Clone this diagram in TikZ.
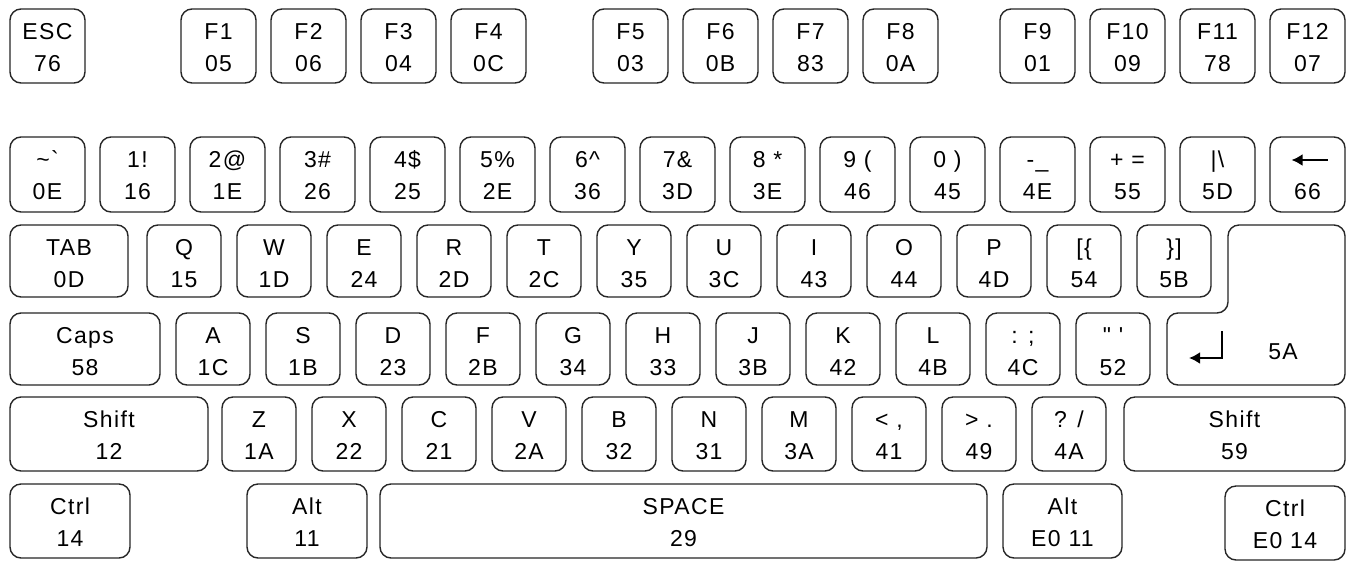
\documentclass[tikz,border=0pt]{standalone}
\usepackage{fontspec}
\setmainfont{Liberation Sans}
\newfontfamily\keyfont{Liberation Sans}[LetterSpace=6]
\usetikzlibrary{arrows.meta}
\tikzset{
  keybox/.style={draw=black!85, line width=1.4pt, rounded corners=11pt, inner sep=0pt, outer sep=0pt, rectangle},
  keytxt/.style={anchor=base, inner sep=0pt, outer sep=0pt, font=\keyfont\fontsize{23}{27}\selectfont},
  keyarrow/.style={line width=2.2pt, -{Latex[length=11pt,width=12pt]}},
}
% name, left, top, width, height, line1, line2
\newcommand\mykey[7]{%
  \node[keybox, minimum width=#4pt, minimum height=#5pt] (#1) at (#2+#4/2,#3+#5/2) {};
  \node[keytxt] (#1-a) at ([yshift=-30pt]#1.north) {#6};
  \node[keytxt] (#1-b) at ([yshift=-62pt]#1.north) {#7};
}
\begin{document}
\begin{tikzpicture}[x=1pt,y=-1pt]
\useasboundingbox[fill=white] (0,0) rectangle (1362,574);
% function row
\mykey{esc}{10}{9}{75}{74}{ESC}{76}
\mykey{f1}{181}{9}{75}{74}{F1}{05}
\mykey{f2}{271}{9}{75}{74}{F2}{06}
\mykey{f3}{361}{9}{75}{74}{F3}{04}
\mykey{f4}{451}{9}{75}{74}{F4}{0C}
\mykey{f5}{593}{9}{75}{74}{F5}{03}
\mykey{f6}{683}{9}{75}{74}{F6}{0B}
\mykey{f7}{773}{9}{75}{74}{F7}{83}
\mykey{f8}{863}{9}{75}{74}{F8}{0A}
\mykey{f9}{1000}{9}{75}{74}{F9}{01}
\mykey{f10}{1090}{9}{75}{74}{F10}{09}
\mykey{f11}{1180}{9}{75}{74}{F11}{78}
\mykey{f12}{1270}{9}{75}{74}{F12}{07}
% number row
\mykey{tilde}{10}{137}{75}{75}{\textasciitilde\symbol{"60}}{0E}
\mykey{n1}{100}{137}{75}{75}{1!}{16}
\mykey{n2}{190}{137}{75}{75}{2@}{1E}
\mykey{n3}{280}{137}{75}{75}{3\#}{26}
\mykey{n4}{370}{137}{75}{75}{4\$}{25}
\mykey{n5}{460}{137}{75}{75}{5\%}{2E}
\mykey{n6}{550}{137}{75}{75}{6\textasciicircum}{36}
\mykey{n7}{640}{137}{75}{75}{7\&}{3D}
\mykey{n8}{730}{137}{75}{75}{8 *}{3E}
\mykey{n9}{820}{137}{75}{75}{9 (}{46}
\mykey{n0}{910}{137}{75}{75}{0 )}{45}
\mykey{minus}{1000}{137}{75}{75}{-\_}{4E}
\mykey{plus}{1090}{137}{75}{75}{+ =}{55}
\mykey{bslash}{1180}{137}{75}{75}{|\textbackslash}{5D}
\mykey{bs}{1270}{137}{75}{75}{}{66}
\coordinate (bs-r) at ([xshift=20pt,yshift=-23pt]bs.north);
\coordinate (bs-l) at ([xshift=-16pt,yshift=-23pt]bs.north);
\draw[keyarrow] (bs-r) -- (bs-l);
% QWERTY row
\mykey{tab}{10}{225}{118}{72}{TAB}{0D}
\mykey{q}{147}{225}{74}{72}{Q}{15}
\mykey{w}{237}{225}{74}{72}{W}{1D}
\mykey{e}{327}{225}{74}{72}{E}{24}
\mykey{r}{417}{225}{74}{72}{R}{2D}
\mykey{t}{507}{225}{74}{72}{T}{2C}
\mykey{y}{597}{225}{74}{72}{Y}{35}
\mykey{u}{687}{225}{74}{72}{U}{3C}
\mykey{i}{777}{225}{74}{72}{I}{43}
\mykey{o}{867}{225}{74}{72}{O}{44}
\mykey{p}{957}{225}{74}{72}{P}{4D}
\mykey{lbr}{1047}{225}{74}{72}{[\{}{54}
\mykey{rbr}{1137}{225}{74}{72}{\}]}{5B}
% enter key
\draw[draw=black!85, line width=1.4pt, rounded corners=11pt] (1228,225) -- (1345,225) -- (1345,385) -- (1167,385) -- (1167,313) -- (1228,313) -- cycle;
\node[keytxt] (ret-t) at (1283,359) {5A};
\coordinate (ret-a) at (1222,331);
\coordinate (ret-c) at (1189,358);
\draw[keyarrow] (ret-a) |- (ret-c);
% home row
\mykey{caps}{10}{313}{150}{72}{Caps}{58}
\mykey{a}{176}{313}{74}{72}{A}{1C}
\mykey{s}{266}{313}{74}{72}{S}{1B}
\mykey{d}{356}{313}{74}{72}{D}{23}
\mykey{f}{446}{313}{74}{72}{F}{2B}
\mykey{g}{536}{313}{74}{72}{G}{34}
\mykey{h}{626}{313}{74}{72}{H}{33}
\mykey{j}{716}{313}{74}{72}{J}{3B}
\mykey{k}{806}{313}{74}{72}{K}{42}
\mykey{l}{896}{313}{74}{72}{L}{4B}
\mykey{semi}{986}{313}{74}{72}{: ;}{4C}
\mykey{quote}{1076}{313}{74}{72}{\symbol{"22} \symbol{"27}}{52}
% shift row
\mykey{lshift}{10}{397}{198}{74}{Shift}{12}
\mykey{z}{222}{397}{74}{74}{Z}{1A}
\mykey{x}{312}{397}{74}{74}{X}{22}
\mykey{c}{402}{397}{74}{74}{C}{21}
\mykey{v}{492}{397}{74}{74}{V}{2A}
\mykey{b}{582}{397}{74}{74}{B}{32}
\mykey{n}{672}{397}{74}{74}{N}{31}
\mykey{m}{762}{397}{74}{74}{M}{3A}
\mykey{comma}{852}{397}{74}{74}{< ,}{41}
\mykey{period}{942}{397}{74}{74}{> .}{49}
\mykey{slash}{1032}{397}{74}{74}{? /}{4A}
\mykey{rshift}{1124}{397}{221}{74}{Shift}{59}
% bottom row
\mykey{lctrl}{10}{484}{120}{74}{Ctrl}{14}
\mykey{lalt}{247}{484}{120}{74}{Alt}{11}
\mykey{space}{380}{484}{607}{74}{SPACE}{29}
\mykey{ralt}{1003}{484}{119}{74}{Alt}{E0 11}
\mykey{rctrl}{1225}{486}{120}{74}{Ctrl}{E0 14}
\end{tikzpicture}
\end{document}
